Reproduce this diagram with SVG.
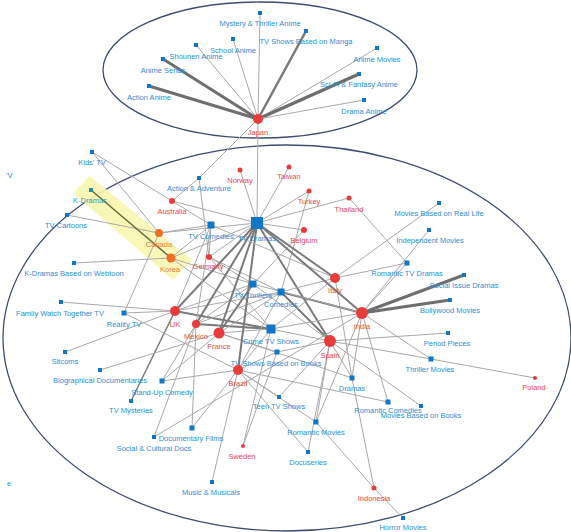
<svg xmlns="http://www.w3.org/2000/svg" width="571" height="532" viewBox="0 0 571 532">
<style>
text{font-family:"Liberation Sans",Arial,sans-serif;font-size:7.5px;text-anchor:middle}
.gl{fill:#2b8fd6}
.cl{fill:#e8474a}
.ol{fill:#f07a34}
.sq{fill:#0f77c6}
.ci{fill:#e83c3c}
.oc{fill:#f06e28}
.ell{fill:none;stroke:#3d4d70;stroke-width:1.3}
#edges line{stroke:#a9a9a9;stroke-width:1}
#edges line.t{stroke:#7a7a7a;stroke-width:2}
#edges line.tt{stroke:#6e6e6e;stroke-width:3}
#edges line.k{stroke:#6b6b3c;stroke-width:1.5}
</style>
<rect width="571" height="532" fill="#ffffff"/>
<ellipse class="ell" cx="260" cy="70" rx="157" ry="68"/>
<ellipse class="ell" cx="287" cy="338" rx="284" ry="193"/>
<polygon points="90,176 73,193 173,280 192,260" fill="#f8f6b0" opacity="0.9"/>
<text class="gl" x="6" y="178" style="text-anchor:start">'V</text>
<text class="gl" x="7" y="486" style="text-anchor:start">e</text>
<g id="edges">
<line x1="258" y1="119" x2="260" y2="13"/>
<line class="t" x1="258" y1="119" x2="306" y2="31" style="stroke-width:2.5"/>
<line x1="258" y1="119" x2="233" y2="39"/>
<line x1="258" y1="119" x2="196" y2="45"/>
<line class="tt" x1="258" y1="119" x2="163" y2="59"/>
<line class="tt" x1="258" y1="119" x2="149" y2="86"/>
<line x1="258" y1="119" x2="377" y2="48"/>
<line class="tt" x1="258" y1="119" x2="359" y2="74" style="stroke-width:3.5"/>
<line x1="258" y1="119" x2="364" y2="100"/>
<line x1="258" y1="119" x2="199" y2="178"/>
<line x1="258" y1="119" x2="257" y2="223"/>
<line x1="240" y1="170" x2="257" y2="223"/>
<line x1="289" y1="167" x2="257" y2="223"/>
<line x1="309" y1="191" x2="257" y2="223"/>
<line x1="309" y1="191" x2="281" y2="292"/>
<line x1="349" y1="198" x2="257" y2="223"/>
<line x1="349" y1="198" x2="407" y2="263"/>
<line x1="304" y1="230" x2="257" y2="223"/>
<line x1="304" y1="230" x2="253" y2="284"/>
<line x1="172" y1="201" x2="92" y2="152"/>
<line x1="172" y1="201" x2="199" y2="178"/>
<line x1="172" y1="201" x2="257" y2="223"/>
<line x1="172" y1="201" x2="211" y2="225"/>
<line x1="159" y1="233" x2="67" y2="215"/>
<line x1="159" y1="233" x2="92" y2="152"/>
<line x1="159" y1="233" x2="257" y2="223"/>
<line x1="159" y1="233" x2="211" y2="225"/>
<line x1="159" y1="233" x2="124" y2="313"/>
<line class="k" x1="171" y1="258" x2="91" y2="190"/>
<line x1="171" y1="258" x2="74" y2="263"/>
<line x1="171" y1="258" x2="257" y2="223"/>
<line x1="171" y1="258" x2="211" y2="225"/>
<line x1="171" y1="258" x2="253" y2="284"/>
<line x1="171" y1="258" x2="271" y2="329"/>
<line x1="209" y1="257" x2="199" y2="178"/>
<line x1="209" y1="257" x2="257" y2="223"/>
<line x1="209" y1="257" x2="211" y2="225"/>
<line x1="209" y1="257" x2="253" y2="284"/>
<line x1="209" y1="257" x2="271" y2="329"/>
<line x1="209" y1="257" x2="281" y2="292"/>
<line class="t" x1="175" y1="311" x2="257" y2="223"/>
<line x1="175" y1="311" x2="211" y2="225"/>
<line x1="175" y1="311" x2="61" y2="302"/>
<line x1="175" y1="311" x2="124" y2="313"/>
<line x1="175" y1="311" x2="65" y2="352"/>
<line class="t" x1="175" y1="311" x2="131" y2="401" style="stroke-width:1.5"/>
<line class="t" x1="175" y1="311" x2="271" y2="329"/>
<line x1="175" y1="311" x2="281" y2="292"/>
<line x1="175" y1="311" x2="253" y2="284"/>
<line class="t" x1="196" y1="324" x2="257" y2="223"/>
<line x1="196" y1="324" x2="211" y2="225"/>
<line class="t" x1="196" y1="324" x2="271" y2="329"/>
<line x1="196" y1="324" x2="281" y2="292"/>
<line x1="196" y1="324" x2="253" y2="284"/>
<line x1="196" y1="324" x2="162" y2="381"/>
<line x1="196" y1="324" x2="192" y2="428"/>
<line x1="196" y1="324" x2="154" y2="437"/>
<line class="t" x1="219" y1="333" x2="257" y2="223"/>
<line x1="219" y1="333" x2="271" y2="329"/>
<line class="t" x1="219" y1="333" x2="253" y2="284"/>
<line x1="219" y1="333" x2="281" y2="292"/>
<line x1="219" y1="333" x2="100" y2="370"/>
<line x1="219" y1="333" x2="277" y2="352"/>
<line x1="219" y1="333" x2="352" y2="378"/>
<line x1="219" y1="333" x2="162" y2="381"/>
<line class="t" x1="238" y1="370" x2="257" y2="223"/>
<line x1="238" y1="370" x2="124" y2="313"/>
<line x1="238" y1="370" x2="271" y2="329"/>
<line x1="238" y1="370" x2="281" y2="292"/>
<line x1="238" y1="370" x2="277" y2="352"/>
<line x1="238" y1="370" x2="279" y2="397"/>
<line x1="238" y1="370" x2="212" y2="482"/>
<line x1="238" y1="370" x2="192" y2="428"/>
<line x1="238" y1="370" x2="316" y2="422"/>
<line x1="238" y1="370" x2="308" y2="452"/>
<line x1="238" y1="370" x2="162" y2="381"/>
<line x1="238" y1="370" x2="388" y2="402"/>
<line class="t" x1="330" y1="341" x2="257" y2="223"/>
<line x1="330" y1="341" x2="271" y2="329"/>
<line class="t" x1="330" y1="341" x2="281" y2="292"/>
<line x1="330" y1="341" x2="253" y2="284"/>
<line x1="330" y1="341" x2="352" y2="378"/>
<line x1="330" y1="341" x2="279" y2="397"/>
<line x1="330" y1="341" x2="316" y2="422"/>
<line x1="330" y1="341" x2="431" y2="359"/>
<line x1="330" y1="341" x2="448" y2="333"/>
<line x1="330" y1="341" x2="421" y2="406"/>
<line x1="330" y1="341" x2="277" y2="352"/>
<line x1="330" y1="341" x2="308" y2="452"/>
<line class="t" x1="335" y1="278" x2="257" y2="223"/>
<line x1="335" y1="278" x2="211" y2="225"/>
<line x1="335" y1="278" x2="407" y2="263"/>
<line x1="335" y1="278" x2="281" y2="292"/>
<line x1="335" y1="278" x2="271" y2="329"/>
<line x1="335" y1="278" x2="352" y2="378"/>
<line x1="335" y1="278" x2="439" y2="203"/>
<line class="t" x1="362" y1="313" x2="257" y2="223"/>
<line class="tt" x1="362" y1="313" x2="464" y2="275"/>
<line class="tt" x1="362" y1="313" x2="450" y2="300"/>
<line class="t" x1="362" y1="313" x2="281" y2="292"/>
<line x1="362" y1="313" x2="271" y2="329"/>
<line x1="362" y1="313" x2="253" y2="284"/>
<line x1="362" y1="313" x2="407" y2="263"/>
<line x1="362" y1="313" x2="429" y2="230"/>
<line x1="362" y1="313" x2="431" y2="359"/>
<line x1="362" y1="313" x2="352" y2="378"/>
<line x1="362" y1="313" x2="388" y2="402"/>
<line x1="362" y1="313" x2="316" y2="422"/>
<line x1="362" y1="313" x2="154" y2="437"/>
<line x1="535" y1="378" x2="431" y2="359"/>
<line x1="243" y1="446" x2="277" y2="352"/>
<line x1="243" y1="446" x2="271" y2="329"/>
<line x1="374" y1="488" x2="316" y2="422"/>
<line x1="374" y1="488" x2="403" y2="518"/>
<line x1="374" y1="488" x2="352" y2="378"/>
</g>
<g id="n-mta"><rect class="sq" x="258" y="11" width="4" height="4"/><text class="gl" x="260" y="26">Mystery &amp; Thriller Anime</text></g>
<g id="n-manga"><rect class="sq" x="304" y="29" width="4" height="4"/><text class="gl" x="306" y="44">TV Shows Based on Manga</text></g>
<g id="n-school"><rect class="sq" x="231" y="37" width="4" height="4"/><text class="gl" x="233" y="53">School Anime</text></g>
<g id="n-shounen"><rect class="sq" x="194" y="43" width="4" height="4"/><text class="gl" x="196" y="59">Shounen Anime</text></g>
<g id="n-series"><rect class="sq" x="161" y="57" width="4" height="4"/><text class="gl" x="163" y="73">Anime Series</text></g>
<g id="n-actionanime"><rect class="sq" x="147" y="84" width="4" height="4"/><text class="gl" x="149" y="100">Action Anime</text></g>
<g id="n-animemovies"><rect class="sq" x="375" y="46" width="4" height="4"/><text class="gl" x="377" y="62">Anime Movies</text></g>
<g id="n-scifi"><rect class="sq" x="357" y="72" width="4" height="4"/><text class="gl" x="359" y="87">Sci-Fi &amp; Fantasy Anime</text></g>
<g id="n-dramaanime"><rect class="sq" x="362" y="98" width="4" height="4"/><text class="gl" x="364" y="114">Drama Anime</text></g>
<g id="n-japan"><circle class="ci" cx="258" cy="119" r="5"/><text class="cl" x="258" y="135">Japan</text></g>
<g id="n-kids"><rect class="sq" x="90" y="150" width="4" height="4"/><text class="gl" x="92" y="165">Kids' TV</text></g>
<g id="n-kdramas"><rect x="89" y="188" width="4" height="4" fill="#2a9090"/><text x="90" y="203" fill="#3a98b0">K-Dramas</text></g>
<g id="n-cartoons"><rect class="sq" x="65" y="213" width="4" height="4"/><text class="gl" x="66" y="228">TV Cartoons</text></g>
<g id="n-webtoon"><rect class="sq" x="72" y="261" width="4" height="4"/><text class="gl" x="74" y="276">K-Dramas Based on Webtoon</text></g>
<g id="n-actadv"><rect class="sq" x="197" y="176" width="4" height="4"/><text class="gl" x="199" y="191">Action &amp; Adventure</text></g>
<g id="n-tvdramas"><rect class="sq" x="251" y="217" width="12" height="12"/><text class="gl" x="257" y="241">TV Dramas</text></g>
<g id="n-tvcom"><rect class="sq" x="207.5" y="221.5" width="7" height="7"/><text class="gl" x="211" y="239">TV Comedies</text></g>
<g id="n-thrillers"><rect class="sq" x="249.5" y="280.5" width="7" height="7"/><text class="gl" x="253" y="298">TV Thrillers</text></g>
<g id="n-comedies"><rect class="sq" x="277.5" y="288.5" width="7" height="7"/><text class="gl" x="281" y="307">Comedies</text></g>
<g id="n-crime"><rect class="sq" x="266.5" y="324.5" width="9" height="9"/><text class="gl" x="271" y="344">Crime TV Shows</text></g>
<g id="n-bookstv"><rect class="sq" x="274.5" y="349.5" width="5" height="5"/><text class="gl" x="276" y="366">TV Shows Based on Books</text></g>
<g id="n-dramas"><rect class="sq" x="349.5" y="375.5" width="5" height="5"/><text class="gl" x="352" y="391">Dramas</text></g>
<g id="n-teen"><rect class="sq" x="277" y="395" width="4" height="4"/><text class="gl" x="279" y="409">Teen TV Shows</text></g>
<g id="n-rommovies"><rect class="sq" x="313.5" y="419.5" width="5" height="5"/><text class="gl" x="316" y="435">Romantic Movies</text></g>
<g id="n-docuseries"><rect class="sq" x="306" y="450" width="4" height="4"/><text class="gl" x="308" y="465">Docuseries</text></g>
<g id="n-horror"><rect class="sq" x="401" y="516" width="4" height="4"/><text class="gl" x="403" y="530">Horror Movies</text></g>
<g id="n-reallife"><rect class="sq" x="437" y="201" width="4" height="4"/><text class="gl" x="439" y="216">Movies Based on Real Life</text></g>
<g id="n-indep"><rect class="sq" x="427" y="228" width="4" height="4"/><text class="gl" x="430" y="243">Independent Movies</text></g>
<g id="n-romtv"><rect class="sq" x="404.5" y="260.5" width="5" height="5"/><text class="gl" x="407" y="276">Romantic TV Dramas</text></g>
<g id="n-socialissue"><rect class="sq" x="462" y="273" width="4" height="4"/><text class="gl" x="464" y="288">Social Issue Dramas</text></g>
<g id="n-bollywood"><rect class="sq" x="448" y="298" width="4" height="4"/><text class="gl" x="450" y="313">Bollywood Movies</text></g>
<g id="n-period"><rect class="sq" x="446" y="331" width="4" height="4"/><text class="gl" x="447" y="346">Period Pieces</text></g>
<g id="n-thrillermovies"><rect class="sq" x="428.5" y="356.5" width="5" height="5"/><text class="gl" x="430" y="372">Thriller Movies</text></g>
<g id="n-romcom"><rect class="sq" x="385.5" y="399.5" width="5" height="5"/><text class="gl" x="388" y="413">Romantic Comedies</text></g>
<g id="n-moviesbooks"><rect class="sq" x="419" y="404" width="4" height="4"/><text class="gl" x="421" y="418">Movies Based on Books</text></g>
<g id="n-family"><rect class="sq" x="59" y="300" width="4" height="4"/><text class="gl" x="60" y="316">Family Watch Together TV</text></g>
<g id="n-reality"><rect class="sq" x="121.5" y="310.5" width="5" height="5"/><text class="gl" x="124" y="327">Reality TV</text></g>
<g id="n-sitcoms"><rect class="sq" x="63" y="350" width="4" height="4"/><text class="gl" x="65" y="364">Sitcoms</text></g>
<g id="n-bio"><rect class="sq" x="98" y="368" width="4" height="4"/><text class="gl" x="100" y="383">Biographical Documentaries</text></g>
<g id="n-standup"><rect class="sq" x="159.5" y="378.5" width="5" height="5"/><text class="gl" x="162" y="395">Stand-Up Comedy</text></g>
<g id="n-mysteries"><rect class="sq" x="129" y="399" width="4" height="4"/><text class="gl" x="131" y="413">TV Mysteries</text></g>
<g id="n-docfilms"><rect class="sq" x="189.5" y="425.5" width="5" height="5"/><text class="gl" x="191" y="441">Documentary Films</text></g>
<g id="n-socialdocs"><rect class="sq" x="152" y="435" width="4" height="4"/><text class="gl" x="154" y="451">Social &amp; Cultural Docs</text></g>
<g id="n-music"><rect class="sq" x="210" y="480" width="4" height="4"/><text class="gl" x="211" y="495">Music &amp; Musicals</text></g>
<g id="n-norway"><circle class="ci" cx="240" cy="170" r="2.5"/><text class="cl" x="240" y="183">Norway</text></g>
<g id="n-taiwan"><circle class="ci" cx="289" cy="167" r="2.5"/><text class="cl" x="289" y="179">Taiwan</text></g>
<g id="n-turkey"><circle class="ci" cx="309" cy="191" r="2.5"/><text class="cl" x="309" y="204">Turkey</text></g>
<g id="n-thailand"><circle class="ci" cx="349" cy="198" r="2.5"/><text class="cl" x="349" y="212">Thailand</text></g>
<g id="n-belgium"><circle class="ci" cx="304" cy="230" r="3"/><text class="cl" x="304" y="243">Belgium</text></g>
<g id="n-australia"><circle class="ci" cx="172" cy="201" r="3"/><text class="cl" x="172" y="214">Australia</text></g>
<g id="n-canada"><circle class="oc" cx="159" cy="233" r="4"/><text class="ol" x="159" y="247">Canada</text></g>
<g id="n-korea"><circle class="oc" cx="171" cy="258" r="4.5"/><text class="ol" x="170" y="272">Korea</text></g>
<g id="n-germany"><circle class="ci" cx="209" cy="257" r="3"/><text class="cl" x="208" y="269">Germany</text></g>
<g id="n-italy"><circle class="ci" cx="335" cy="278" r="5"/><text class="cl" x="335" y="293">Italy</text></g>
<g id="n-india"><circle class="ci" cx="362" cy="313" r="6"/><text class="cl" x="362" y="329">India</text></g>
<g id="n-uk"><circle class="ci" cx="175" cy="311" r="5"/><text class="cl" x="175" y="327">UK</text></g>
<g id="n-mexico"><circle class="ci" cx="196" cy="324" r="4"/><text class="cl" x="196" y="339">Mexico</text></g>
<g id="n-france"><circle class="ci" cx="219" cy="333" r="5.5"/><text class="cl" x="219" y="349">France</text></g>
<g id="n-spain"><circle class="ci" cx="330" cy="341" r="6"/><text class="cl" x="330" y="358">Spain</text></g>
<g id="n-brazil"><circle class="ci" cx="238" cy="370" r="5"/><text class="cl" x="238" y="386">Brazil</text></g>
<g id="n-poland"><circle class="ci" cx="535" cy="378" r="2"/><text class="cl" x="534" y="390">Poland</text></g>
<g id="n-sweden"><circle class="ci" cx="243" cy="446" r="2"/><text class="cl" x="242" y="459">Sweden</text></g>
<g id="n-indonesia"><circle class="ci" cx="374" cy="488" r="2.5"/><text class="cl" x="374" y="501">Indonesia</text></g>
</svg>
